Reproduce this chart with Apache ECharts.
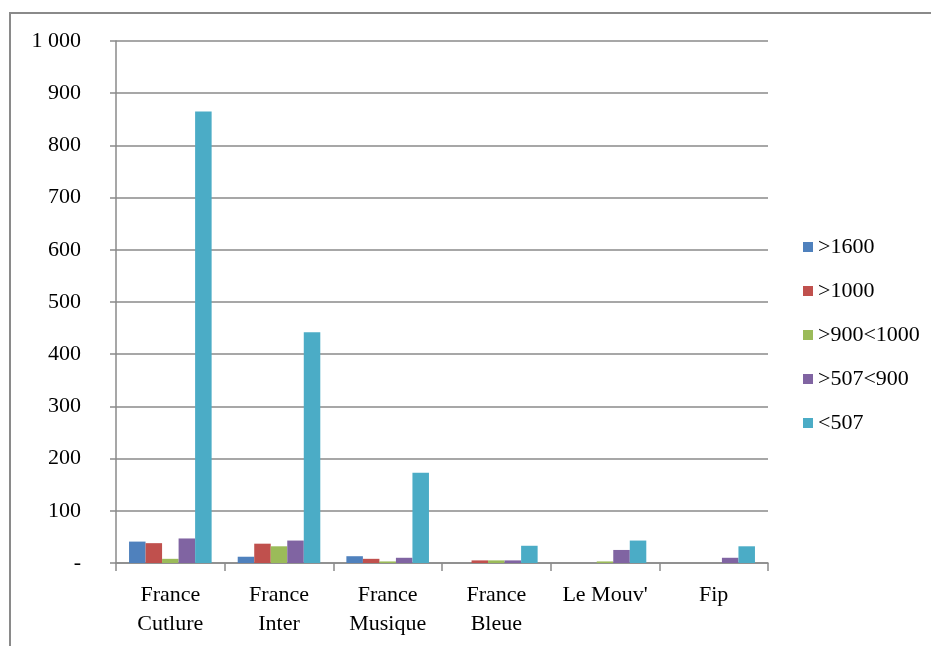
<!DOCTYPE html>
<html>
<head>
<meta charset="utf-8">
<script src="https://cdn.jsdelivr.net/npm/echarts@6/dist/echarts.min.js"></script>
<style>
html,body{margin:0;padding:0;background:#fff;}
#chart{width:931px;height:646px;}
</style>
</head>
<body>
<div id="chart"></div>
<script>
const categories = ['France\nCutlure', 'France\nInter', 'France\nMusique', 'France\nBleue', "Le Mouv'", 'Fip'];
const seriesNames = ['>1600', '>1000', '>900<1000', '>507<900', '<507'];
const s1600 = [41, 12, 13, 0, 0, 0];
const s1000 = [38, 37, 8, 5, 0, 0];
const s900_1000 = [8, 32, 3, 5, 3, 0];
const s507_900 = [47, 43, 10, 5, 25, 10];
const s507 = [865, 442, 173, 33, 43, 32];
const colors = ['#4F81BD', '#C0504D', '#9BBB59', '#8064A2', '#4BACC6'];

const dataSets = [s1600, s1000, s900_1000, s507_900, s507];
const font = '"Liberation Serif", "Times New Roman", serif';

const chart = echarts.init(document.getElementById('chart'), null, {renderer: 'canvas'});
chart.setOption({
  animation: false,
  backgroundColor: '#fff',
  textStyle: {fontFamily: font},
  graphic: [{
    type: 'rect',
    shape: {x: 10, y: 13, width: 960, height: 700},
    style: {fill: 'none', stroke: '#8a8a8a', lineWidth: 2},
    silent: true
  }],
  grid: {left: 116, right: 163, top: 41, bottom: 83, containLabel: false},
  legend: {
    orient: 'vertical',
    left: 798,
    top: 231,
    itemWidth: 10,
    itemHeight: 10,
    itemGap: 22,
    icon: 'rect',
    textStyle: {fontFamily: font, fontSize: 22, color: '#000'},
    data: seriesNames
  },
  xAxis: {
    type: 'category',
    data: categories,
    axisLine: {lineStyle: {color: '#8a8a8a', width: 1.5}},
    axisTick: {show: true, alignWithLabel: false, length: 8, lineStyle: {color: '#8a8a8a', width: 1.5}},
    axisLabel: {fontFamily: font, fontSize: 22, color: '#000', margin: 18, lineHeight: 29, interval: 0}
  },
  yAxis: {
    type: 'value',
    min: 0,
    max: 1000,
    interval: 100,
    axisLine: {show: true, lineStyle: {color: '#8a8a8a', width: 1.5}},
    axisTick: {show: true, length: 6, lineStyle: {color: '#8a8a8a', width: 1.5}},
    splitLine: {lineStyle: {color: '#8a8a8a', width: 1.5}},
    axisLabel: {
      fontFamily: font, fontSize: 22, color: '#000', margin: 35,
      formatter: function (v) { return v === 0 ? '-' : (v >= 1000 ? '1 000' : String(v)); }
    }
  },
  series: dataSets.map(function (d, i) {
    return {
      name: seriesNames[i],
      type: 'bar',
      data: d,
      barGap: '0%',
      barCategoryGap: '24%',
      itemStyle: {color: colors[i]}
    };
  })
});
</script>
</body>
</html>
